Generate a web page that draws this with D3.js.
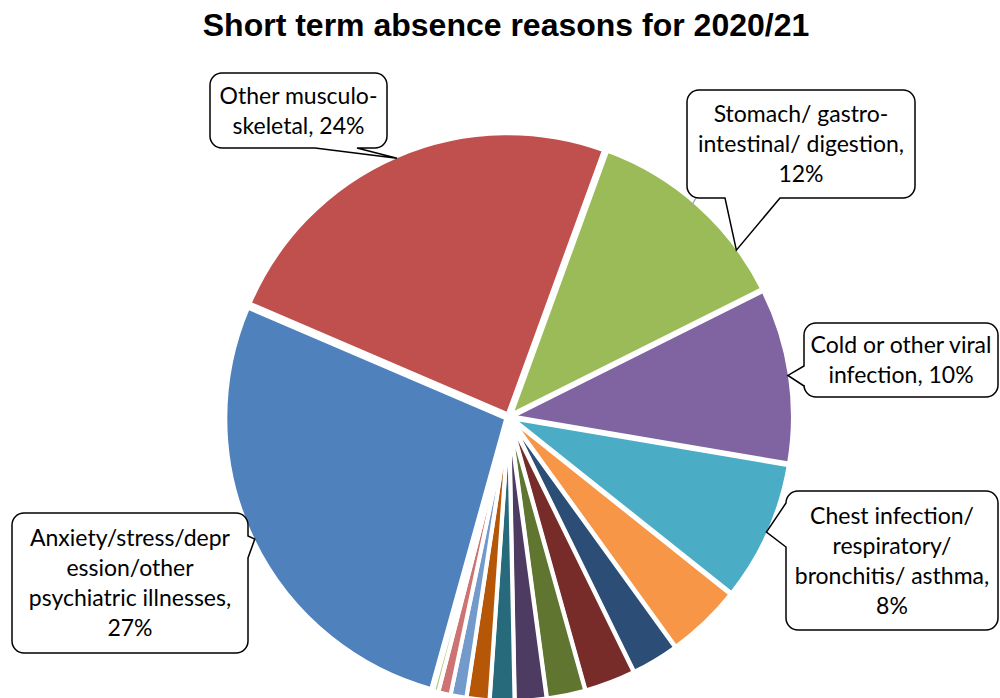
<!doctype html>
<html lang="en">
  <head>
    <meta charset="utf-8">
    <title>Short term absence reasons for 2020/21</title>
    <script src="https://d3js.org/d3.v7.min.js"></script>
    <style>
      body { margin: 0; background: #fff; }
      svg { display: block; }
    </style>
  </head>
  <body>
    <div id="root"></div>
  </body>
  <script>

    //data (pie order as drawn, clockwise from the first slice):
    const reasons = [
      'Anxiety/stress/depression/other psychiatric illnesses',
      'Other musculo-skeletal',
      'Stomach/ gastro-intestinal/ digestion',
      'Cold or other viral infection',
      'Chest infection/ respiratory/ bronchitis/ asthma',
      'Headache/ migraine',
      'Injury, fracture',
      'Back problems',
      'Genito-urinary/ gynaecological',
      'Ear, nose, throat',
      'Other known causes',
      'Dental and oral problems',
      'Eye problems',
      'Heart, cardiac and circulatory',
      'Benign and malignant tumours'
    ];
    const shares = [27, 24, 12, 10, 8, 4.3, 2.7, 2.9, 2.2, 1.8, 1.4, 1.3, 0.9, 0.7, 0.3];
    const colours = [
      '#4f81bd', '#c0504d', '#9bbb59', '#8064a2', '#4bacc6', '#f79646',
      '#2c4d75', '#772c2a', '#5f7530', '#4d3b62', '#276a7c', '#b65708',
      '#729aca', '#cd7371', '#afc97a'
    ];
    // callout label lines (only the five biggest slices are labelled)
    const labelLines = [
      ['Anxiety/stress/depr', 'ession/other', 'psychiatric illnesses,', '27%'],
      ['Other musculo-', 'skeletal, 24%'],
      ['Stomach/ gastro-', 'intestinal/ digestion,', '12%'],
      ['Cold or other viral', 'infection, 10%'],
      ['Chest infection/', 'respiratory/', 'bronchitis/ asthma,', '8%']
    ];

    //constants:
    const width = 1000;
    const height = 698;
    const cx = 509;
    const cy = 417;
    const radius = 279;
    const explode = 3;
    const firstAngle = 195.5;   // degrees, clockwise from 12 o'clock
    const lineGap = 30;

    // callout boxes (layout only)
    const boxes = [
      {x: 12, y: 513, w: 236, h: 140, side: 'right', base: [536, 558], shift: 0},
      {x: 210, y: 73, w: 177, h: 75, side: 'bottom', base: [315, 357], shift: 0},
      {x: 687, y: 90, w: 228, h: 108, side: 'bottom', base: [725, 780], shift: 12},
      {x: 804, y: 323, w: 194, h: 74, side: 'left', base: [366, 386], shift: 0},
      {x: 786, y: 491, w: 212, h: 139, side: 'left', base: [503, 547], shift: 0}
    ];

    const svg = d3.select('#root')
      .append('svg')
      .attr('width', width)
      .attr('height', height);

    //title:
    svg.append('text')
      .attr('x', 506)
      .attr('y', 36)
      .attr('text-anchor', 'middle')
      .style('font-family', "'Liberation Sans', Arial, sans-serif")
      .style('font-weight', 'bold')
      .style('font-size', '32px')
      .text('Short term absence reasons for 2020/21');

    //pie:
    const rad = Math.PI / 180;
    const pie = d3.pie()
      .sort(null)
      .startAngle(firstAngle * rad)
      .endAngle(firstAngle * rad + 2 * Math.PI);

    const arcs = pie(shares);
    const arc = d3.arc().innerRadius(0).outerRadius(radius + 2);

    const g = svg.append('g')
      .attr('transform', `translate(${cx},${cy})`);

    g.selectAll('path')
      .data(arcs)
      .enter()
      .append('path')
      .attr('transform', d => {
        const a = (d.startAngle + d.endAngle) / 2;
        return `translate(${explode * Math.sin(a)},${-explode * Math.cos(a)})`;
      })
      .attr('d', arc)
      .attr('fill', (d, i) => colours[i])
      .attr('stroke', '#fff')
      .attr('stroke-width', 4)
      .attr('stroke-linejoin', 'round');

    //callouts:
    function calloutPath(b, tip) {
      const r = 12;
      const {x, y, w, h} = b;
      const [b1, b2] = b.base;
      let p = `M${x + r},${y}H${x + w - r}A${r},${r} 0 0 1 ${x + w},${y + r}`;
      if (b.side === 'right') p += `V${b1}L${tip[0]},${tip[1]}L${x + w},${b2}`;
      p += `V${y + h - r}A${r},${r} 0 0 1 ${x + w - r},${y + h}`;
      if (b.side === 'bottom') p += `H${b2}L${tip[0]},${tip[1]}L${b1},${y + h}`;
      p += `H${x + r}A${r},${r} 0 0 1 ${x},${y + h - r}`;
      if (b.side === 'left') p += `V${b2}L${tip[0]},${tip[1]}L${x},${b1}`;
      p += `V${y + r}A${r},${r} 0 0 1 ${x + r},${y}Z`;
      return p;
    }

    // faint leader line of the stomach label
    svg.append('line')
      .attr('x1', 697).attr('y1', 196)
      .attr('x2', 692).attr('y2', 205)
      .attr('stroke', '#a6a6a6')
      .attr('stroke-width', 1.5);

    const callouts = svg.append('g');
    boxes.forEach((b, i) => {
      const d = arcs[i];
      const a = (d.startAngle + d.endAngle) / 2 + b.shift * rad;
      const tr = radius + 3;
      const tip = [cx + tr * Math.sin(a), cy - tr * Math.cos(a)];

      callouts.append('path')
        .attr('d', calloutPath(b, tip))
        .attr('fill', '#fff')
        .attr('stroke', '#000')
        .attr('stroke-width', 1.5);

      const lines = labelLines[i];
      const midY = b.y + b.h / 2;
      const top = midY - (lines.length - 1) * lineGap / 2;
      callouts.append('text')
        .attr('text-anchor', 'middle')
        .style('font-family', "Lato, 'Open Sans', sans-serif")
        .style('font-size', '23px')
        .attr('fill', '#000')
        .selectAll('tspan')
        .data(lines)
        .enter()
        .append('tspan')
        .attr('x', b.x + b.w / 2)
        .attr('y', (t, j) => top + j * lineGap)
        .attr('dy', '0.35em')
        .text(t => t);
    });

  </script>
</html>
